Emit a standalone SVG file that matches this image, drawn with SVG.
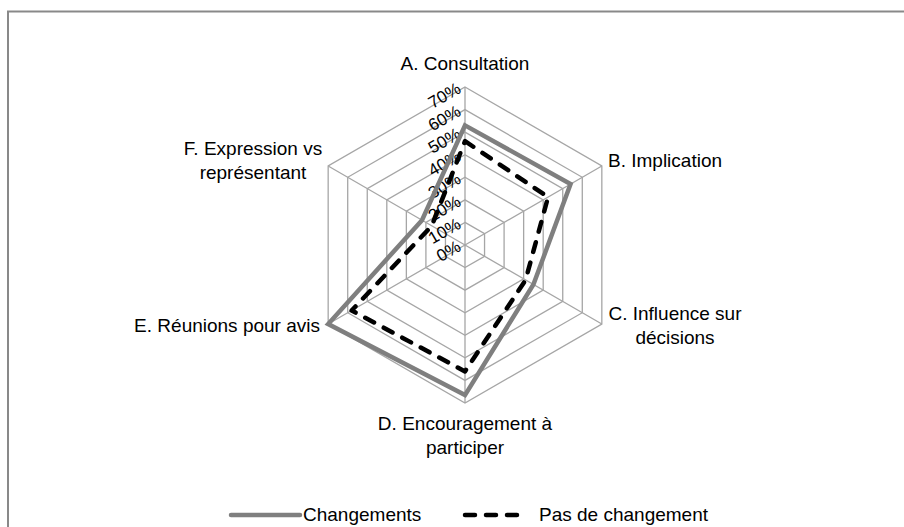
<svg xmlns="http://www.w3.org/2000/svg" width="904" height="527" viewBox="0 0 904 527">
<style>
.frame{fill:#fff;stroke:#898989;stroke-width:2}
.grid{fill:none;stroke:#a6a6a6;stroke-width:1.3}
.lbl{font-family:"Liberation Sans",Arial,sans-serif;font-size:19px;fill:#000}
.tick{font-family:"Liberation Sans",Arial,sans-serif;font-size:17px;fill:#000;text-anchor:end}
.s1{fill:none;stroke:#7f7f7f;stroke-width:4.5;stroke-linejoin:miter}
.s2{fill:none;stroke:#000;stroke-width:4.5;stroke-dasharray:10 11;stroke-linecap:round;stroke-linejoin:round}
</style>
<rect x="0" y="0" width="904" height="527" fill="#fff"/>
<rect class="frame" x="8" y="11.5" width="1000" height="600"/>
<g id="grid">
<polygon class="grid" points="465,222.43 484.55,233.71 484.55,256.29 465,267.57 445.45,256.29 445.45,233.71"/>
<polygon class="grid" points="465,199.86 504.09,222.43 504.09,267.57 465,290.14 425.91,267.57 425.91,222.43"/>
<polygon class="grid" points="465,177.29 523.64,211.14 523.64,278.86 465,312.71 406.36,278.86 406.36,211.14"/>
<polygon class="grid" points="465,154.71 543.19,199.86 543.19,290.14 465,335.29 386.81,290.14 386.81,199.86"/>
<polygon class="grid" points="465,132.14 562.74,188.57 562.74,301.43 465,357.86 367.26,301.43 367.26,188.57"/>
<polygon class="grid" points="465,109.57 582.29,177.29 582.29,312.71 465,380.43 347.71,312.71 347.71,177.29"/>
<polygon class="grid" points="465,87 601.83,166 601.83,324 465,403 328.17,324 328.17,166"/>
<path class="grid" d="M465,245V87M465,245L601.83,166M465,245L601.83,324M465,245V403M465,245L328.17,324M465,245L328.17,166"/>
</g>
<g id="ticks">
<text class="tick" x="462" y="250" transform="rotate(-30 462 250)">0%</text>
<text class="tick" x="462" y="227.4" transform="rotate(-30 462 227.4)">10%</text>
<text class="tick" x="462" y="204.9" transform="rotate(-30 462 204.9)">20%</text>
<text class="tick" x="462" y="182.3" transform="rotate(-30 462 182.3)">30%</text>
<text class="tick" x="462" y="159.7" transform="rotate(-30 462 159.7)">40%</text>
<text class="tick" x="462" y="137.1" transform="rotate(-30 462 137.1)">50%</text>
<text class="tick" x="462" y="114.6" transform="rotate(-30 462 114.6)">60%</text>
<text class="tick" x="462" y="92" transform="rotate(-30 462 92)">70%</text>
</g>
<g id="series">
<polygon id="changements" class="s1" points="465,125.37 570.56,184.06 533.42,284.5 465,395.1 328.17,324 422,220.17"/>
<polygon id="pas-de-changement" class="s2" points="465,141.17 548.08,197.04 525.6,279.99 465,371.4 351.63,310.46 431.77,225.81"/>
</g>
<g id="A"><text class="lbl" x="465" y="70" text-anchor="middle">A. Consultation</text></g>
<g id="B"><text class="lbl" x="608" y="167">B. Implication</text></g>
<g id="C"><text class="lbl" x="675" y="320" text-anchor="middle">C. Influence sur</text><text class="lbl" x="675" y="344" text-anchor="middle">décisions</text></g>
<g id="D"><text class="lbl" x="465" y="430" text-anchor="middle">D. Encouragement à</text><text class="lbl" x="465" y="454" text-anchor="middle">participer</text></g>
<g id="E"><text class="lbl" x="320" y="332" text-anchor="end">E. Réunions pour avis</text></g>
<g id="F"><text class="lbl" x="253" y="155" text-anchor="middle">F. Expression vs</text><text class="lbl" x="253" y="179" text-anchor="middle">représentant</text></g>
<g id="legend">
<line x1="231" y1="515" x2="300" y2="515" stroke="#7f7f7f" stroke-width="4.5" stroke-linecap="round"/>
<text class="lbl" x="303" y="521">Changements</text>
<line x1="465" y1="515" x2="523" y2="515" class="s2" stroke-dasharray="9 11"/>
<text class="lbl" x="539" y="521">Pas de changement</text>
</g>
</svg>
